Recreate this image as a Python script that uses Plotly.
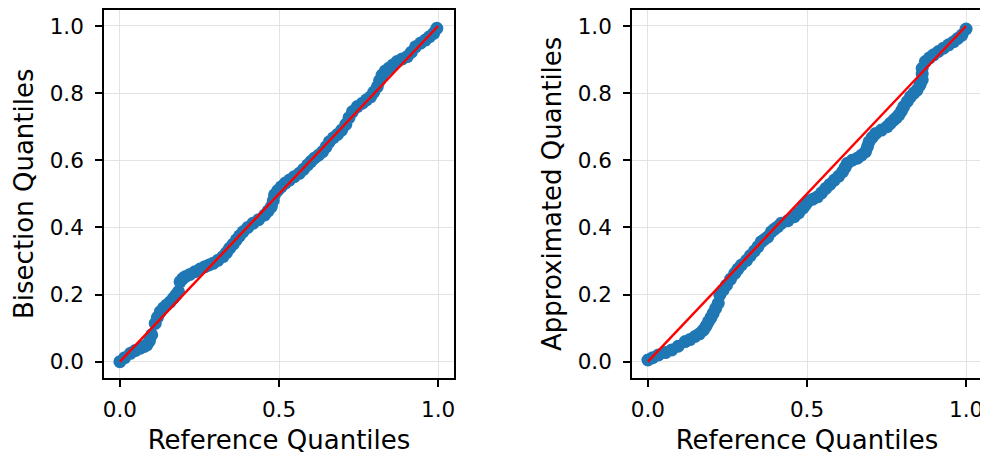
import plotly.graph_objects as go

# Left panel: reference quantiles vs bisection quantiles
bisection_ref = [0.0, 0.015, 0.033, 0.048, 0.064, 0.075, 0.085, 0.093, 0.1, 0.111, 0.118, 0.127,
                 0.137, 0.147, 0.158, 0.168, 0.176, 0.184, 0.189, 0.197, 0.205, 0.22, 0.236, 0.252,
                 0.267, 0.28, 0.293, 0.308, 0.324, 0.335, 0.345, 0.356, 0.366, 0.376, 0.387, 0.402,
                 0.418, 0.436, 0.455, 0.466, 0.476, 0.482, 0.486, 0.496, 0.507, 0.52, 0.533, 0.548,
                 0.564, 0.577, 0.59, 0.6, 0.611, 0.624, 0.637, 0.648, 0.658, 0.671, 0.684, 0.697,
                 0.71, 0.72, 0.731, 0.746, 0.762, 0.775, 0.788, 0.798, 0.809, 0.816, 0.824, 0.834,
                 0.845, 0.858, 0.871, 0.887, 0.903, 0.916, 0.929, 0.945, 0.96, 0.973, 0.986, 0.996]
bisection_q = [0.0, 0.012, 0.025, 0.033, 0.04, 0.045, 0.05, 0.062, 0.08, 0.114, 0.132, 0.149,
               0.16, 0.169, 0.178, 0.189, 0.198, 0.209, 0.238, 0.247, 0.253, 0.26, 0.268, 0.276,
               0.283, 0.288, 0.293, 0.302, 0.313, 0.325, 0.338, 0.35, 0.363, 0.375, 0.387, 0.4,
               0.412, 0.423, 0.437, 0.449, 0.462, 0.48, 0.497, 0.51, 0.521, 0.532, 0.541, 0.551,
               0.561, 0.573, 0.586, 0.596, 0.606, 0.615, 0.626, 0.64, 0.655, 0.667, 0.677, 0.69,
               0.707, 0.727, 0.745, 0.76, 0.77, 0.78, 0.789, 0.803, 0.819, 0.837, 0.854, 0.866,
               0.874, 0.884, 0.894, 0.902, 0.909, 0.922, 0.938, 0.949, 0.958, 0.968, 0.978, 0.993]

# Right panel: reference quantiles vs approximated quantiles
approx_ref = [0.0, 0.015, 0.033, 0.055, 0.075, 0.095, 0.117, 0.132, 0.148, 0.162, 0.174, 0.183,
              0.19, 0.198, 0.205, 0.213, 0.221, 0.226, 0.236, 0.247, 0.26, 0.273, 0.283, 0.294,
              0.31, 0.322, 0.335, 0.346, 0.356, 0.366, 0.377, 0.388, 0.398, 0.408, 0.419, 0.44,
              0.46, 0.474, 0.487, 0.495, 0.502, 0.518, 0.533, 0.546, 0.559, 0.572, 0.586, 0.6,
              0.612, 0.62, 0.627, 0.642, 0.658, 0.671, 0.684, 0.69, 0.695, 0.705, 0.716, 0.734,
              0.752, 0.762, 0.773, 0.781, 0.789, 0.797, 0.804, 0.815, 0.825, 0.836, 0.846, 0.855,
              0.862, 0.862, 0.862, 0.872, 0.885, 0.898, 0.913, 0.929, 0.945, 0.961, 0.974, 0.987, 1.0]
approx_q = [0.005, 0.012, 0.02, 0.027, 0.035, 0.046, 0.06, 0.066, 0.075, 0.083, 0.094, 0.106,
            0.119, 0.131, 0.144, 0.159, 0.174, 0.199, 0.213, 0.228, 0.246, 0.263, 0.276, 0.288,
            0.302, 0.316, 0.33, 0.343, 0.357, 0.364, 0.372, 0.387, 0.395, 0.402, 0.412, 0.42,
            0.432, 0.443, 0.457, 0.467, 0.477, 0.484, 0.491, 0.503, 0.516, 0.528, 0.541, 0.553,
            0.566, 0.579, 0.591, 0.6, 0.606, 0.615, 0.626, 0.64, 0.655, 0.668, 0.68, 0.69,
            0.70, 0.71, 0.72, 0.727, 0.735, 0.747, 0.76, 0.775, 0.789, 0.8, 0.809, 0.824,
            0.839, 0.857, 0.874, 0.894, 0.905, 0.914, 0.924, 0.934, 0.944, 0.953, 0.963, 0.973, 0.991]

# Identity reference line
line_x = [0.0, 1.0]
line_y = [0.0, 1.0]

x_ticks = [0.0, 0.5, 1.0]
y_ticks = [0.0, 0.2, 0.4, 0.6, 0.8, 1.0]

x_title = "Reference Quantiles"
y_titles = ["Bisection Quantiles", "Approximated Quantiles"]

BLUE = "#1f77b4"
FONT = "DejaVu Sans"

fig = go.Figure()

panels = [
    (bisection_ref, bisection_q, "x", "y"),
    (approx_ref, approx_q, "x2", "y2"),
]
for xs, ys, xa, ya in panels:
    fig.add_trace(go.Scatter(x=xs, y=ys, mode="markers", xaxis=xa, yaxis=ya,
                             marker=dict(size=13, color=BLUE, line=dict(width=0)),
                             showlegend=False, hoverinfo="skip"))
    fig.add_trace(go.Scatter(x=line_x, y=line_y, mode="lines", xaxis=xa, yaxis=ya,
                             line=dict(color="red", width=2.4),
                             showlegend=False, hoverinfo="skip"))

# the page body adds an 8px offset; size the figure so it fills the 988x455 window
OFF = 8
W, H = 988 - OFF, 455 - OFF
ML, MR, MT, MB = 104 - OFF, 6, 10 - OFF, 77
PW = W - ML - MR

axis_common = dict(showline=True, mirror=True, linecolor="black", linewidth=1.7,
                   ticks="outside", ticklen=7, tickwidth=1.7, tickcolor="black",
                   showgrid=True, gridcolor="#e3e3e3", gridwidth=1, zeroline=False,
                   tickfont=dict(family=FONT, size=21.5, color="black"))

xaxis_common = dict(axis_common, range=[-0.05, 1.05], tickvals=x_ticks,
                    ticktext=["0.0", "0.5", "1.0"], ticklabelstandoff=4)
yaxis_common = dict(axis_common, range=[-0.0486, 1.0476], tickvals=y_ticks,
                    ticktext=["0.0", "0.2", "0.4", "0.6", "0.8", "1.0"], ticklabelstandoff=7)

TITLE_FONT = dict(family=FONT, size=26, color="black")

fig.update_layout(
    width=W, height=H,
    margin=dict(l=ML, r=MR, t=MT, b=MB, autoexpand=False),
    paper_bgcolor="white", plot_bgcolor="white",
    font=dict(family=FONT, color="black"),
    xaxis=dict(xaxis_common, domain=[0, 350 / PW], anchor="y",
               title=dict(text=x_title, font=TITLE_FONT, standoff=10)),
    yaxis=dict(yaxis_common, domain=[0, 1], anchor="x"),
    xaxis2=dict(xaxis_common, domain=[(632 - 104) / PW, 1], anchor="y2",
                title=dict(text=x_title, font=TITLE_FONT, standoff=10)),
    yaxis2=dict(yaxis_common, domain=[0, 1], anchor="x2"),
)

# vertical axis titles, centred on each panel's height
for text, cx in zip(y_titles, [24, 552]):
    fig.add_annotation(text=text, textangle=-90, font=TITLE_FONT, showarrow=False,
                       xref="paper", yref="paper",
                       x=(cx - OFF - ML) / PW, y=0.5,
                       xanchor="center", yanchor="middle")

fig.write_html("out.html")
